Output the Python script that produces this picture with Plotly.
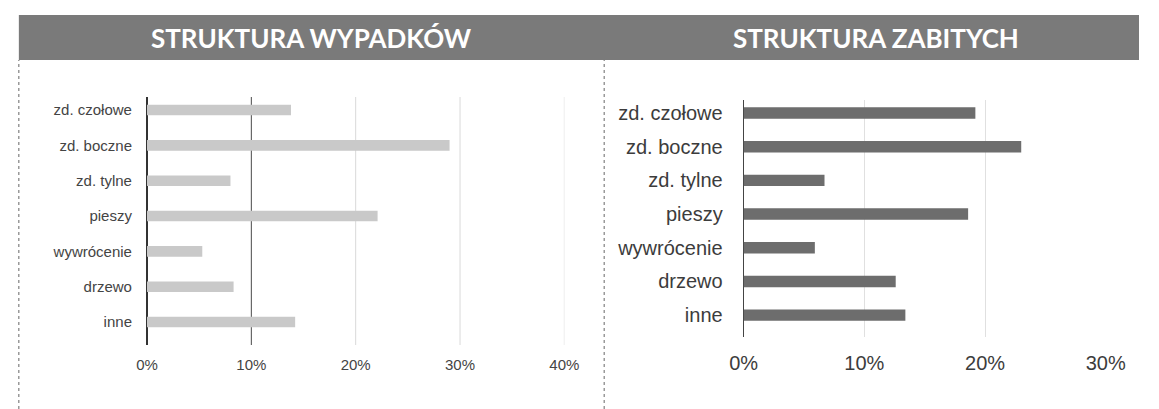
import plotly.graph_objects as go

W, H = 1159, 409

categories = ["zd. czołowe", "zd. boczne", "zd. tylne", "pieszy", "wywrócenie", "drzewo", "inne"]
wypadki = [0.138, 0.290, 0.080, 0.221, 0.053, 0.083, 0.142]
zabici = [0.192, 0.230, 0.067, 0.186, 0.059, 0.126, 0.134]
left_ticks = [0, 0.1, 0.2, 0.3, 0.4]
right_ticks = [0, 0.1, 0.2, 0.3]
titles = ["STRUKTURA WYPADKÓW", "STRUKTURA ZABITYCH"]


def px_x(p):
    return p / W


def px_y(p):
    return 1 - p / H


fig = go.Figure()

fig.add_trace(go.Bar(
    x=wypadki, y=categories, orientation="h", xaxis="x", yaxis="y",
    marker=dict(color="#c9c9c9", line=dict(width=0)), width=0.3,
    showlegend=False, hoverinfo="x+y",
))
fig.add_trace(go.Bar(
    x=zabici, y=categories, orientation="h", xaxis="x2", yaxis="y2",
    marker=dict(color="#6d6d6d", line=dict(width=0)), width=0.34,
    showlegend=False, hoverinfo="x+y",
))

font_family = "Liberation Sans, Arial, sans-serif"

fig.update_layout(
    width=W, height=H,
    margin=dict(l=0, r=0, t=0, b=0),
    paper_bgcolor="white", plot_bgcolor="white",
    bargap=0.5,
    xaxis=dict(
        domain=[px_x(137), px_x(567)], range=[0, 0.4], anchor="y",
        tickvals=left_ticks, tickformat=".0%",
        showgrid=False,
        zeroline=True, zerolinecolor="#333333", zerolinewidth=1.5,
        showline=False, ticks="outside", ticklen=6, tickcolor="rgba(0,0,0,0)",
        tickfont=dict(family=font_family, size=15, color="#444444"),
        fixedrange=True,
    ),
    yaxis=dict(
        domain=[px_y(345), px_y(97)], anchor="x",
        categoryorder="array", categoryarray=categories,
        range=[6.65, -0.368],
        showgrid=False, zeroline=False, showline=False,
        ticks="outside", ticklen=11, tickcolor="rgba(0,0,0,0)",
        tickfont=dict(family=font_family, size=15, color="#444444"),
        fixedrange=True,
    ),
    xaxis2=dict(
        domain=[px_x(751.7), px_x(1124.7)], range=[0, 0.3], anchor="y2",
        tickvals=right_ticks, tickformat=".0%",
        showgrid=True, gridcolor="#e0e0e0", gridwidth=1,
        zeroline=True, zerolinecolor="#444444", zerolinewidth=1,
        showline=False, ticks="outside", ticklen=8, tickcolor="rgba(0,0,0,0)",
        tickfont=dict(family=font_family, size=20, color="#3c3c3c"),
        fixedrange=True,
    ),
    yaxis2=dict(
        domain=[px_y(337), px_y(100)], anchor="x2",
        categoryorder="array", categoryarray=categories,
        range=[6.65, -0.386],
        showgrid=False, zeroline=False, showline=False,
        ticks="outside", ticklen=16, tickcolor="rgba(0,0,0,0)",
        tickfont=dict(family=font_family, size=20, color="#3c3c3c"),
        fixedrange=True,
    ),
)

shapes = [
    # title band
    dict(type="rect", xref="paper", yref="paper",
         x0=px_x(5), x1=1, y0=px_y(60), y1=px_y(15),
         fillcolor="#7a7a7a", line=dict(width=0), layer="below"),
    # dotted borders
    dict(type="line", xref="paper", yref="paper",
         x0=px_x(5), x1=px_x(5), y0=0, y1=px_y(60),
         line=dict(color="#666666", width=1, dash="dot")),
    dict(type="line", xref="paper", yref="paper",
         x0=px_x(608), x1=px_x(608), y0=0, y1=px_y(60),
         line=dict(color="#666666", width=1, dash="dot")),
]

# left-panel gridlines (the 10% one is darker in the original)
for t in left_ticks[1:]:
    shapes.append(dict(
        type="line", xref="x", yref="paper",
        x0=t, x1=t, y0=px_y(345), y1=px_y(97),
        line=dict(color="#4a4a4a" if t == left_ticks[1] else "#d9d9d9", width=1),
        layer="below",
    ))

annotations = [
    dict(text=f"<b>{titles[0]}</b>", xref="paper", yref="paper",
         x=px_x(307), y=px_y(38), xanchor="center", yanchor="middle",
         showarrow=False, font=dict(family="Lato, Open Sans, sans-serif", size=26, color="white")),
    dict(text=f"<b>{titles[1]}</b>", xref="paper", yref="paper",
         x=px_x(888), y=px_y(38), xanchor="center", yanchor="middle",
         showarrow=False, font=dict(family="Lato, Open Sans, sans-serif", size=26, color="white")),
]

fig.update_layout(shapes=shapes, annotations=annotations)

fig.write_html(
    "out.html",
    config={"displayModeBar": False},
    post_script="document.body.style.margin='0';document.body.style.overflow='hidden';",
)
